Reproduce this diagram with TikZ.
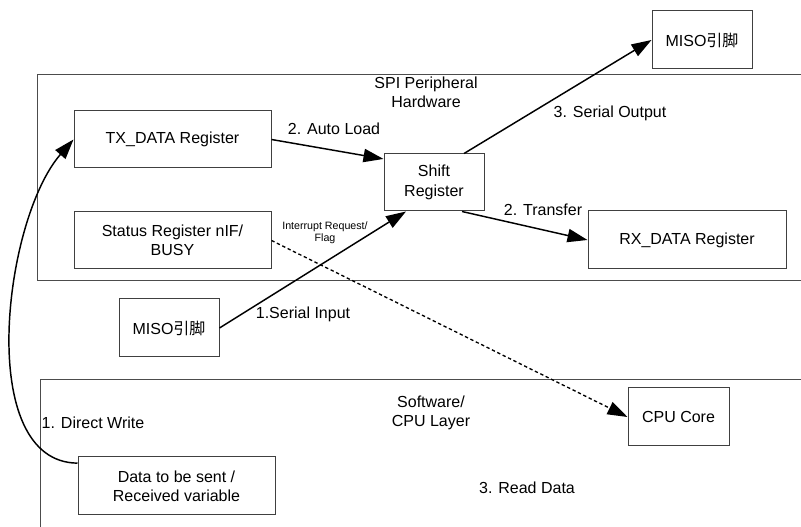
\documentclass[tikz,border=0pt]{standalone}
\usepackage{fontspec}
\setmainfont{Liberation Sans}
\newfontfamily\cjk{Noto Sans CJK SC}
\usetikzlibrary{arrows.meta}
\begin{document}
\begin{tikzpicture}[x=0.75pt,y=-0.75pt,
  box/.style={draw=black!75,line width=0.75pt,fill=white,align=center,inner sep=0pt,
    font=\fontsize{12}{14.5}\selectfont},
  lbl/.style={align=center,inner sep=0pt,font=\fontsize{12}{14.5}\selectfont},
  small/.style={align=center,inner sep=0pt,font=\fontsize{8}{9}\selectfont},
  arr/.style={line width=1.1pt,-{Triangle[length=15pt,width=10pt]}},
  lane/.style={draw=black!70,line width=0.75pt}]
\useasboundingbox (0,0) rectangle (801,527);
\fill[white] (0,0) rectangle (801,527);
% clusters
\draw[lane] (801,75) -- (37,75) -- (37,281) -- (801,281);
\draw[lane] (801,380) -- (40,380) -- (40,527);
\node[lbl] (spilbl) at (426,92) {SPI Peripheral\\Hardware};
\node[lbl] (swlbl) at (431,413) {Software/\\CPU Layer};
% nodes
\node[box,minimum width=147.75pt,minimum height=42.75pt] (tx) at (172.5,139.5) {TX\_DATA Register};
\node[box,minimum width=147.75pt,minimum height=42.75pt] (status) at (172.5,240.5) {Status Register nIF/\\BUSY};
\node[box,minimum width=75pt,minimum height=42.75pt] (shift) at (434,182.5) {Shift\\Register};
\node[box,minimum width=75pt,minimum height=43.5pt] (miso1) at (702,40) {MISO{\cjk 引脚}};
\node[box,minimum width=148.5pt,minimum height=43.5pt] (rx) at (687,240) {RX\_DATA Register};
\node[box,minimum width=75pt,minimum height=43.5pt] (miso2) at (169,328) {MISO{\cjk 引脚}};
\node[box,minimum width=147.75pt,minimum height=43.5pt] (data) at (176.5,486) {Data to be sent /\\Received variable};
\node[box,minimum width=75.75pt,minimum height=43.5pt] (cpu) at (678.5,417) {CPU Core};
% edges
\draw[arr] (tx.east) -- (shift.155);
\draw[arr] (shift.44) -- (miso1.west);
\draw[arr] (shift.-46) -- (rx.west);
\draw[arr] (miso2.east) -- (shift.-134);
\draw[arr,line width=1pt,dash pattern=on 2.5pt off 2pt] (status.east) -- (cpu.west);
\draw[arr] (data.167) .. controls +(-103,-1) and +(-70,80) .. (tx.west);
% edge labels
\node[lbl] (l1) at (334,129) {2. Auto Load};
\node[lbl] (l2) at (610,113) {3. Serial Output};
\node[lbl] (l3) at (543,210) {2. Transfer};
\node[small] (l4) at (325,233) {Interrupt Request/\\Flag};
\node[lbl] (l5) at (303,314) {1.Serial Input};
\node[lbl] (l6) at (93,423) {1. Direct Write};
\node[lbl] (l7) at (527,488) {3. Read Data};
\end{tikzpicture}
\end{document}
